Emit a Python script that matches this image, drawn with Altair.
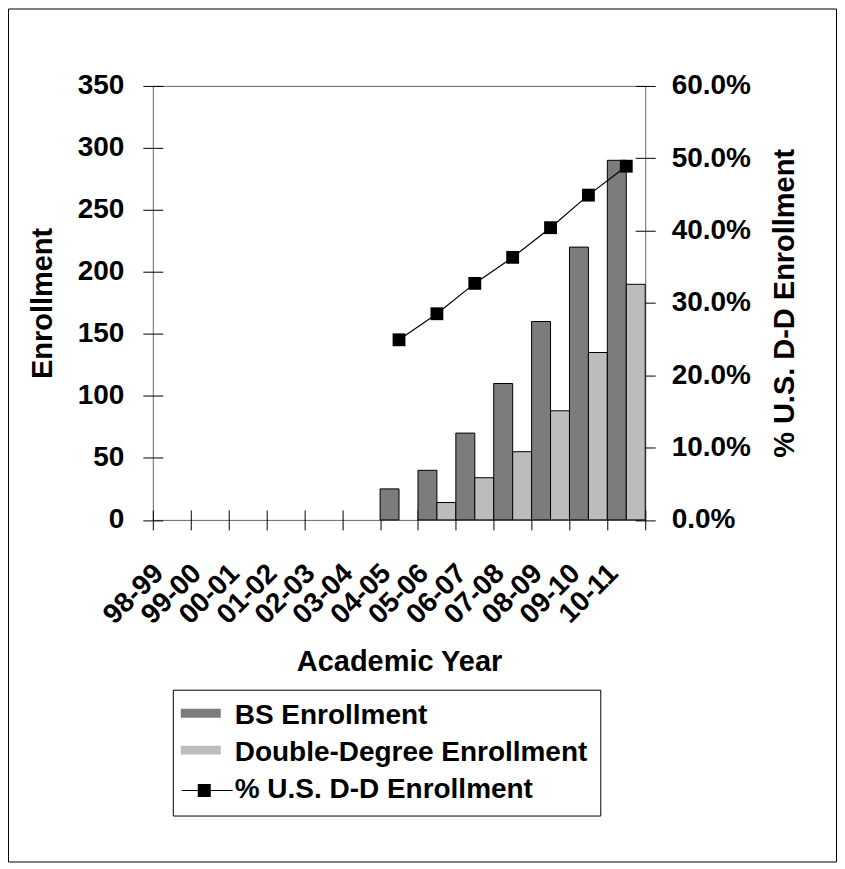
import altair as alt
import pandas as pd

# ---------------- data ----------------
years = ["98-99", "99-00", "00-01", "01-02", "02-03", "03-04", "04-05",
         "05-06", "06-07", "07-08", "08-09", "09-10", "10-11"]
bs_enrollment = [None, None, None, None, None, None, 25, 40, 70, 110, 160, 220, 290]
dd_enrollment = [None, None, None, None, None, None, None, 14, 34, 55, 88, 135, 190]
pct_us_dd = [None, None, None, None, None, None, 0.249, 0.285, 0.327, 0.363, 0.404, 0.449, 0.489]

BS = "BS Enrollment"
DD = "Double-Degree Enrollment"
PC = "% U.S. D-D Enrollment"
series_names = [BS, DD, PC]
left_ticks = [0, 50, 100, 150, 200, 250, 300, 350]
right_ticks = [0.0, 0.1, 0.2, 0.3, 0.4, 0.5, 0.6]

# ---------------- styling ----------------
FONT = "Liberation Sans"
fills = ["#7c7c7c", "#bcbcbc", "#000000"]
rect_sym = "M-1.8,-0.7H2.2V0.2H-1.8Z"
line_sym = "M-1.7,0.05H3.4V0.15H-1.7ZM-0.1,-0.55H1.2V0.75H-0.1Z"
shapes = [rect_sym, rect_sym, line_sym]

bar_rows = []
for yr, b, d in zip(years, bs_enrollment, dd_enrollment):
    if b is not None:
        bar_rows.append({"year": yr, "series": BS, "value": b})
    if d is not None:
        bar_rows.append({"year": yr, "series": DD, "value": d})
bars_df = pd.DataFrame(bar_rows)
line_df = pd.DataFrame({"year": years, "pct": pct_us_dd}).dropna()
legend_df = pd.DataFrame({"series": series_names})

x_scale = alt.Scale(domain=years, paddingInner=0, paddingOuter=0)
fill_scale = alt.Scale(domain=series_names, range=fills)
shape_scale = alt.Scale(domain=series_names, range=shapes)
pct_scale = alt.Scale(domain=[0, 0.6], nice=False)

x_axis = alt.Axis(
    title="Academic Year", labelAngle=315, labelAlign="right", labelBaseline="middle",
    labelOffset=-13, labelPadding=39, tickSize=20, offset=-10, domain=False,
    tickBand="extent", labelOverlap=False, labelBound=False, titlePadding=18,
    labelFontSize=28,
)
left_axis = alt.Axis(
    title="Enrollment", values=left_ticks, tickSize=20, offset=-10, domain=False,
    labelPadding=19, titlePadding=20, grid=False,
)
right_axis = alt.Axis(
    title=PC, orient="right", values=right_ticks, format=".1%", tickSize=20, offset=-10,
    domain=False, labelPadding=16, titlePadding=20, titleAngle=270, titleBaseline="top",
    grid=False,
)

legend = alt.Legend(
    orient="none", legendX=20, legendY=604.5, title=None, strokeColor="black",
    fillColor="white", padding=12, symbolSize=400, symbolStrokeWidth=0,
    symbolOpacity=1, labelFontSize=28, labelFontWeight="bold", labelFont=FONT,
    labelColor="black", labelOffset=22, rowPadding=9, labelLimit=600,
)

x_enc = alt.X("year:N", scale=x_scale, sort=years, axis=x_axis)

border = alt.Chart(alt.Data(values=[{"k": 1}])).mark_rect(
    filled=False, stroke="black", strokeWidth=1
).encode(
    x=alt.value(-144.5), x2=alt.value(684.5), y=alt.value(-77), y2=alt.value(777)
)

bars = alt.Chart(bars_df).mark_bar(stroke="black", strokeWidth=1).encode(
    x=x_enc,
    xOffset=alt.XOffset("series:N", scale=alt.Scale(domain=[BS, DD], paddingInner=0, paddingOuter=0)),
    y=alt.Y("value:Q", scale=alt.Scale(domain=[0, 350], nice=False), axis=left_axis),
    fill=alt.Fill("series:N", scale=fill_scale, legend=legend),
)

line = alt.Chart(line_df).mark_line(color="black", strokeWidth=1.2).encode(
    x=x_enc,
    y=alt.Y("pct:Q", scale=pct_scale, axis=right_axis),
)

points = alt.Chart(line_df).mark_point(
    shape="square", filled=True, size=165, color="black", opacity=1
).encode(
    x=x_enc,
    y=alt.Y("pct:Q", scale=pct_scale, axis=None),
)

# legend-only layer (no rows drawn): gives the legend its symbol shapes
legend_layer = alt.Chart(legend_df).transform_filter("false").mark_point(
    filled=True, opacity=1
).encode(
    fill=alt.Fill("series:N", scale=fill_scale, legend=legend),
    shape=alt.Shape("series:N", scale=shape_scale, legend=legend),
)

chart = alt.layer(border, bars, line, points, legend_layer).resolve_scale(
    y="independent"
).properties(
    width=493, height=434.5,
    padding={"left": 145, "top": 77.5, "right": 192, "bottom": 343},
    autosize=alt.AutoSizeParams(type="none"),
).configure(
    font=FONT,
).configure_view(
    fill="#f8f8f8", stroke="#666666", strokeWidth=1,
).configure_axis(
    labelFont=FONT, labelFontSize=28, labelFontWeight="bold", labelColor="black",
    titleFont=FONT, titleFontSize=29, titleFontWeight="bold", titleColor="black",
    tickColor="black", tickWidth=1,
)

chart.save("out.html", embed_options={"renderer": "svg", "actions": False})
